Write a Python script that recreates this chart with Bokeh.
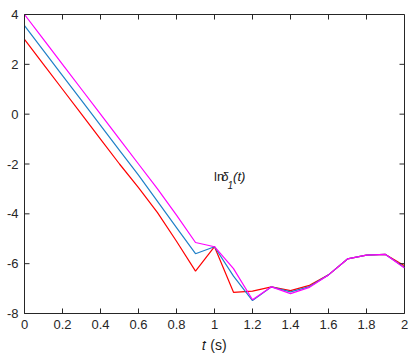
from bokeh.plotting import figure
from bokeh.models import Range1d, FixedTicker, Label
from bokeh.embed import file_html
from bokeh.resources import INLINE

t = [0.0, 0.1, 0.2, 0.3, 0.4, 0.5, 0.6, 0.7, 0.8, 0.9, 1.0,
     1.1, 1.2, 1.3, 1.4, 1.5, 1.6, 1.7, 1.8, 1.9, 2.0]
red = [3.0, 2.0, 1.0, 0.0, -1.0, -2.0, -2.95, -3.95, -5.1, -6.3, -5.32,
       -7.15, -7.1, -6.93, -7.08, -6.87, -6.45, -5.81, -5.66, -5.63, -6.08]
blue = [3.55, 2.55, 1.55, 0.55, -0.45, -1.45, -2.45, -3.5, -4.55, -5.6, -5.32,
        -6.5, -7.48, -6.93, -7.13, -6.92, -6.45, -5.81, -5.66, -5.63, -6.15]
magenta = [4.0, 3.0, 2.0, 1.0, 0.0, -1.0, -2.0, -3.0, -4.05, -5.15, -5.32,
           -6.2, -7.45, -6.93, -7.2, -6.95, -6.45, -5.81, -5.66, -5.63, -6.17]

x_ticks = [0, 0.2, 0.4, 0.6, 0.8, 1.0, 1.2, 1.4, 1.6, 1.8, 2.0]
x_tick_labels = ["0", "0.2", "0.4", "0.6", "0.8", "1", "1.2", "1.4", "1.6", "1.8", "2"]
y_ticks = [-8, -6, -4, -2, 0, 2, 4]
y_tick_labels = ["-8", "-6", "-4", "-2", "0", "2", "4"]
x_label = "\U0001D461 (s)"

FONT = "Liberation Sans"
AX = "#262626"
X0, X1, Y0, Y1 = 0, 2, -8, 4
W, H = 417, 355
BL, BR, BT, BB = 24, 13, 14, 43          # frame borders in px
TICK_PX = 5

p = figure(width=W, height=H, output_backend="svg", toolbar_location=None,
           x_range=Range1d(X0, X1), y_range=Range1d(Y0, Y1),
           min_border_left=BL, min_border_right=BR, min_border_top=BT, min_border_bottom=8)
p.grid.visible = False
p.outline_line_color = AX
p.background_fill_color = "white"
p.border_fill_color = "white"

def style_axis(ax, ticks, labels):
    ax.ticker = FixedTicker(ticks=ticks)
    ax.major_label_overrides = {tk: lb for tk, lb in zip(ticks, labels)}
    ax.major_label_text_font = FONT
    ax.major_label_text_font_size = "13px"
    ax.major_label_text_color = AX
    ax.major_label_standoff = 6
    ax.axis_line_color = AX
    ax.major_tick_line_color = None
    ax.major_tick_in = 0
    ax.major_tick_out = 0
    ax.minor_tick_line_color = None

style_axis(p.xaxis[0], x_ticks, x_tick_labels)
style_axis(p.yaxis[0], y_ticks, y_tick_labels)
p.xaxis[0].axis_label = x_label
p.xaxis[0].axis_label_text_font = FONT
p.xaxis[0].axis_label_text_font_size = "14px"
p.xaxis[0].axis_label_text_font_style = "normal"
p.xaxis[0].axis_label_text_color = "#1a1a1a"
p.xaxis[0].axis_label_standoff = 5

p.line(t, red, line_color="#ff0000", line_width=1.2)
p.line(t, blue, line_color="#1f80c8", line_width=1.2)
p.line(t, magenta, line_color="#ff00ff", line_width=1.2)

# inward tick marks on all four sides
dx = (X1 - X0) / (W - BL - BR) * TICK_PX
dy = (Y1 - Y0) / (H - BT - BB) * TICK_PX
nx, ny = len(x_ticks), len(y_ticks)
p.segment(x0=x_ticks, y0=[Y0] * nx, x1=x_ticks, y1=[Y0 + dy] * nx, line_color=AX, line_width=1)
p.segment(x0=x_ticks, y0=[Y1] * nx, x1=x_ticks, y1=[Y1 - dy] * nx, line_color=AX, line_width=1)
p.segment(x0=[X0] * ny, y0=y_ticks, x1=[X0 + dx] * ny, y1=y_ticks, line_color=AX, line_width=1)
p.segment(x0=[X1] * ny, y0=y_ticks, x1=[X1 - dx] * ny, y1=y_ticks, line_color=AX, line_width=1)

def lab(x, y, text, size="13px", style="normal"):
    p.add_layout(Label(x=x, y=y, text=text, text_font=FONT, text_font_size=size,
                       text_font_style=style, text_color="#1a1a1a",
                       text_align="left", text_baseline="middle"))

lab(0.998, -2.49, "ln")
lab(1.035, -2.49, "\u03b4", style="italic")
lab(1.069, -2.83, "1", size="10px", style="italic")
lab(1.098, -2.49, "(t)", style="italic")

open("out.html", "w").write(file_html(p, INLINE))
